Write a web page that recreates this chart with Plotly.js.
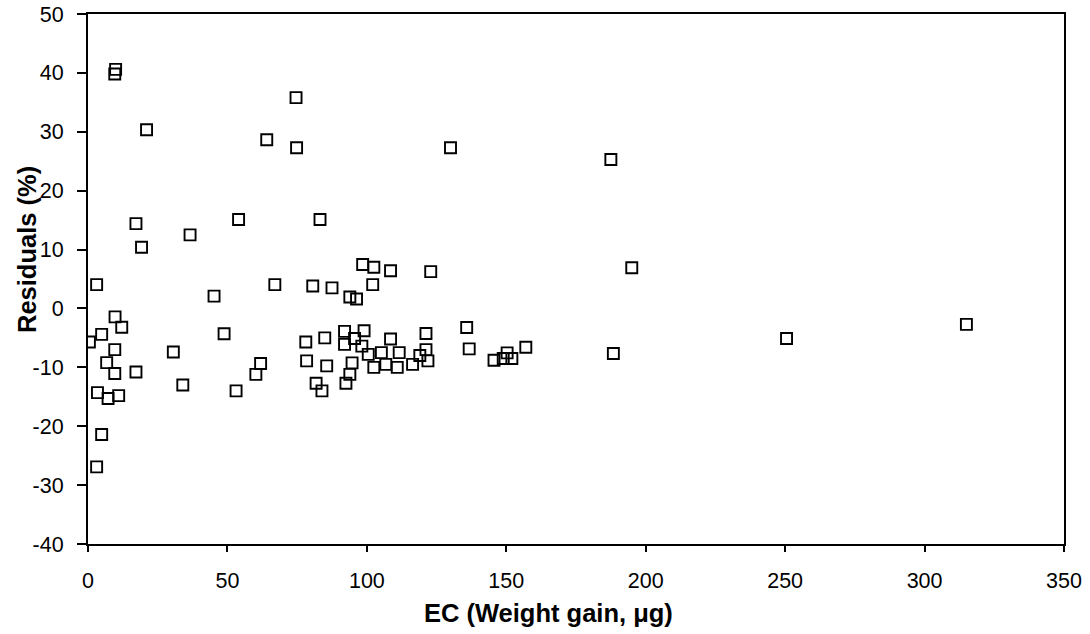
<!DOCTYPE html>
<html>
<head>
<meta charset="utf-8">
<script src="https://cdn.plot.ly/plotly-3.0.1.min.js"></script>
<style>
  html, body { margin: 0; padding: 0; background: #fff; }
  #chart { width: 1090px; height: 634px; }
</style>
</head>
<body>
<div id="chart"></div>
<script>
// EC weight gain (µg) for each filter sample
const ecWeightGain = [
  9.9, 9.6, 21.0, 64.1, 17.2, 36.6, 54.0, 19.2, 3.1, 45.2,
  67.0, 9.7, 12.1, 4.9, 0.5, 48.8, 9.6, 30.6, 6.7, 61.9,
  9.6, 17.2, 60.2, 34.0, 53.1, 3.4, 7.2, 11.0, 4.9, 3.1,
  74.6, 74.8, 83.2, 98.5, 102.5, 108.5, 80.6, 87.5, 102.1, 93.9,
  96.3, 78.1, 84.9, 92.0, 99.0, 92.0, 98.2, 108.5, 95.6, 100.5,
  105.2, 111.6, 78.4, 85.6, 94.7, 102.5, 106.8, 110.9, 116.4, 81.8,
  83.9, 93.9, 92.5, 122.9, 135.8, 121.2, 121.2, 136.7, 150.3, 157.0,
  145.6, 148.9, 152.0, 121.9, 119.0, 188.4, 187.5, 130.0, 195.0, 250.5,
  315.0
];

// Relative residual (%) for the same samples
const residualPct = [
  40.6, 39.8, 30.35, 28.65, 14.4, 12.5, 15.1, 10.4, 4.05, 2.1,
  4.05, -1.44, -3.2, -4.4, -5.7, -4.3, -7.0, -7.4, -9.2, -9.35,
  -11.05, -10.8, -11.2, -13.0, -14.0, -14.3, -15.3, -14.8, -21.4, -26.9,
  35.8, 27.3, 15.1, 7.45, 7.0, 6.4, 3.8, 3.5, 4.05, 1.95,
  1.6, -5.7, -5.0, -3.9, -3.8, -6.1, -6.4, -5.2, -5.1, -7.8,
  -7.5, -7.5, -8.9, -9.76, -9.25, -10.0, -9.5, -10.0, -9.5, -12.7,
  -14.0, -11.2, -12.7, 6.26, -3.24, -4.26, -7.0, -6.87, -7.55, -6.6,
  -8.8, -8.5, -8.5, -8.9, -8.0, -7.65, 25.3, 27.3, 6.9, -5.1,
  -2.7
];

const xTickVals = [0, 50, 100, 150, 200, 250, 300, 350];
const yTickVals = [-40, -30, -20, -10, 0, 10, 20, 30, 40, 50];

const xTitle = 'EC (Weight gain, μg)';
const yTitle = 'Residuals (%)';

const fontFamily = '"Liberation Sans", Arial, sans-serif';

const trace = {
  type: 'scatter',
  mode: 'markers',
  x: ecWeightGain,
  y: residualPct,
  marker: {
    symbol: 'square-open',
    size: 11,
    color: '#000',
    line: { color: '#000', width: 1.9 }
  },
  hoverinfo: 'x+y'
};

const axisCommon = {
  showgrid: false,
  zeroline: false,
  showline: true,
  linecolor: '#000',
  linewidth: 2,
  mirror: true,
  ticks: 'outside',
  tickcolor: '#000',
  tickwidth: 2,
  tickfont: { family: fontFamily, size: 21.5, color: '#000' }
};

// plot-area edges in pixels, used to place the axis titles
const plotLeft = 88, plotRight = 1064, plotTop = 14, plotBottom = 544;
const toPaperX = px => (px - plotLeft) / (plotRight - plotLeft);
const toPaperY = py => (plotBottom - py) / (plotBottom - plotTop);

const layout = {
  width: 1090,
  height: 634,
  margin: { l: plotLeft, r: 1090 - plotRight, t: plotTop, b: 634 - plotBottom },
  paper_bgcolor: '#fff',
  plot_bgcolor: '#fff',
  showlegend: false,
  xaxis: Object.assign({}, axisCommon, {
    range: [0, 350],
    tickmode: 'array',
    tickvals: xTickVals,
    ticktext: xTickVals.map(String),
    ticklen: 6,
    ticklabelstandoff: 10
  }),
  yaxis: Object.assign({}, axisCommon, {
    range: [-40, 50],
    tickmode: 'array',
    tickvals: yTickVals,
    ticktext: yTickVals.map(String),
    ticklen: 9,
    ticklabelstandoff: 9
  }),
  annotations: [
    {
      text: '<b>' + xTitle + '</b>',
      xref: 'paper', yref: 'paper',
      x: toPaperX(548), y: toPaperY(613),
      xanchor: 'center', yanchor: 'middle',
      showarrow: false,
      font: { family: fontFamily, size: 25.5, color: '#000' }
    },
    {
      text: '<b>' + yTitle + '</b>',
      xref: 'paper', yref: 'paper',
      x: toPaperX(27), y: toPaperY(250),
      xanchor: 'center', yanchor: 'middle',
      textangle: -90,
      showarrow: false,
      font: { family: fontFamily, size: 25.5, color: '#000' }
    }
  ]
};

Plotly.newPlot('chart', [trace], layout, { displayModeBar: false, staticPlot: true });
</script>
</body>
</html>
